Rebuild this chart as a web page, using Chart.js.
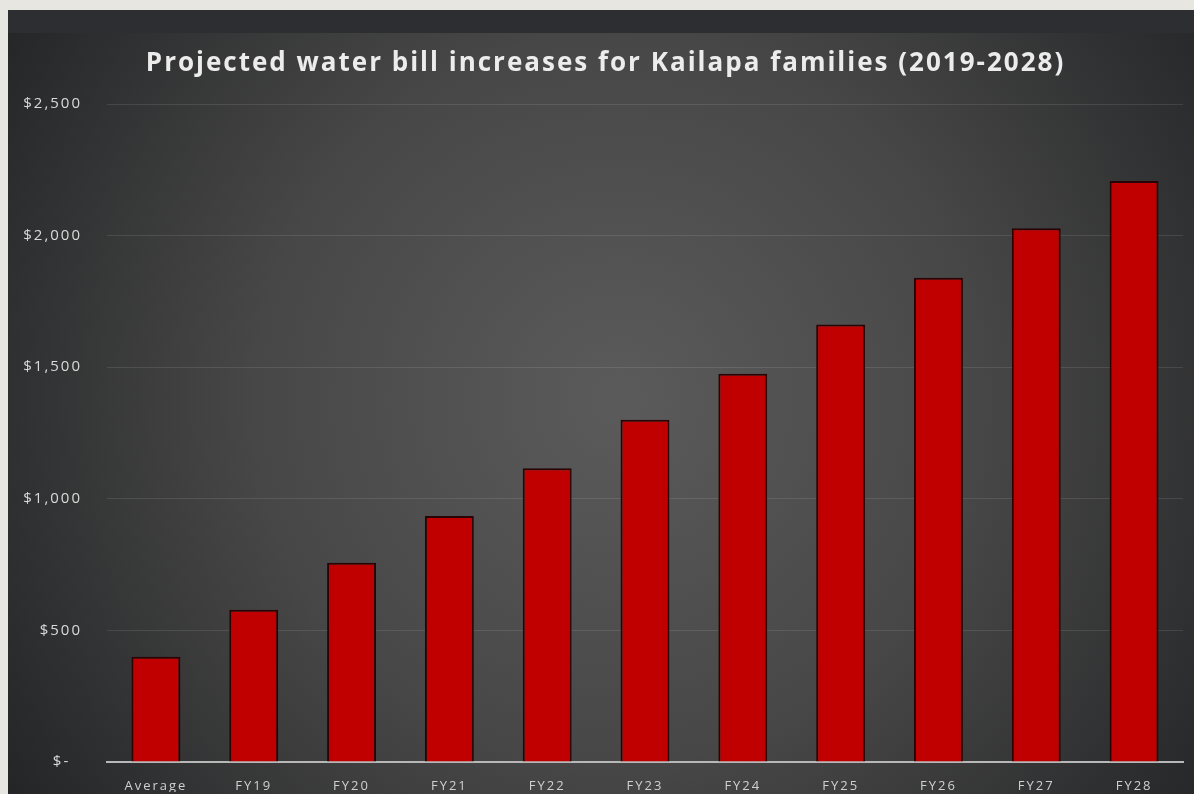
<!DOCTYPE html>
<html>
<head>
<meta charset="utf-8">
<script src="https://cdn.jsdelivr.net/npm/chart.js@4.4.1/dist/chart.umd.min.js"></script>
<style>
  html, body { margin: 0; padding: 0; }
  body { width: 1194px; height: 794px; background: #e8e6e1; position: relative; overflow: hidden; }
  #wrap { position: absolute; left: 8px; top: 10px; width: 1186px; height: 784px; }
</style>
</head>
<body>
<div id="wrap"><canvas id="c" width="1186" height="784"></canvas></div>
<script>
const categories = ['Average', 'FY19', 'FY20', 'FY21', 'FY22', 'FY23', 'FY24', 'FY25', 'FY26', 'FY27', 'FY28'];
const billValues = [400, 578, 757, 935, 1116, 1300, 1475, 1662, 1840, 2028, 2207];
const yTickLabels = ['$-  ', '$500', '$1,000', '$1,500', '$2,000', '$2,500'];
const chartTitle = 'Projected water bill increases for Kailapa families (2019-2028)';

const bgPlugin = {
  id: 'bg',
  afterLayout(chart) {
    if (chart.titleBlock) { chart.titleBlock.left = 20; }
  },
  beforeDraw(chart) {
    const ctx = chart.ctx;
    const w = chart.width, h = chart.height;
    ctx.save();
    const g = ctx.createRadialGradient(610, 390, 20, 610, 390, 780);
    g.addColorStop(0, '#5a5a5a');
    g.addColorStop(0.45, '#474747');
    g.addColorStop(1, '#1f2022');
    ctx.fillStyle = g;
    ctx.fillRect(0, 23, w, h - 23);
    ctx.fillStyle = '#2d2e31';
    ctx.fillRect(0, 0, w, 23);
    ctx.restore();
    ctx.letterSpacing = '2px';
  },
  afterDraw(chart) {
    chart.ctx.letterSpacing = '0px';
  }
};

new Chart(document.getElementById('c'), {
  type: 'bar',
  data: {
    labels: categories,
    datasets: [{
      data: billValues,
      backgroundColor: '#c00000',
      borderColor: '#2a0404',
      borderWidth: 2,
      barPercentage: 0.5,
      categoryPercentage: 1.0
    }]
  },
  options: {
    responsive: false,
    animation: false,
    layout: { padding: { top: 30, right: 11, bottom: 2, left: 0 } },
    plugins: {
      legend: { display: false },
      tooltip: { enabled: false },
      title: {
        display: true,
        text: chartTitle,
        color: '#ececec',
        font: { family: 'Open Sans', size: 26, weight: 'bold' },
        padding: { top: 8.4, bottom: 24.4 }
      }
    },
    scales: {
      x: {
        grid: { display: true, color: 'rgba(0,0,0,0)', drawOnChartArea: false, drawTicks: false },
        border: { display: true, color: '#b8b8b8', width: 2 },
        ticks: { color: '#d0d0d0', font: { family: 'Open Sans', size: 13 }, padding: 16 },
        afterFit(scale) { scale.height = 30; }
      },
      y: {
        min: 0,
        max: 2500,
        ticks: {
          stepSize: 500,
          color: '#dadada',
          font: { family: 'Open Sans', size: 15 },
          padding: 25,
          callback: (v, i) => yTickLabels[i]
        },
        grid: { color: 'rgba(255,255,255,0.10)', lineWidth: 1, drawTicks: false },
        border: { display: false },
        afterFit(scale) {
          scale.width = 99;
          scale.paddingTop = 0;
          scale.paddingBottom = 0;
        }
      }
    }
  },
  plugins: [bgPlugin]
});
</script>
</body>
</html>
